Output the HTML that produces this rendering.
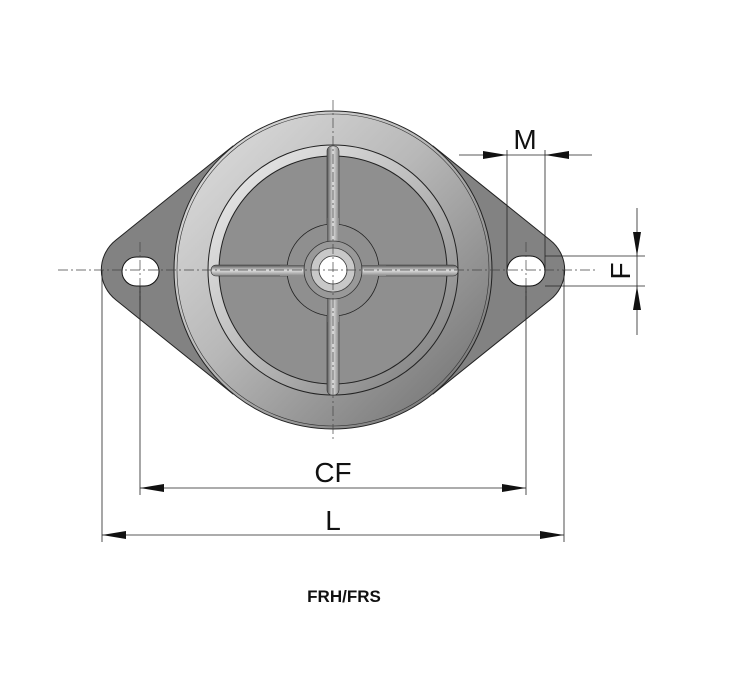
<!DOCTYPE html>
<html><head><meta charset="utf-8"><style>
html,body{margin:0;padding:0;background:#fff;}
svg{display:block;}
</style></head><body>
<svg width="736" height="675" viewBox="0 0 736 675" xmlns="http://www.w3.org/2000/svg" font-family="Liberation Sans, sans-serif">
<defs>
<linearGradient id="ring" x1="0" y1="0" x2="1" y2="1">
<stop offset="0" stop-color="#e2e2e2"/><stop offset="0.45" stop-color="#b8b8b8"/><stop offset="1" stop-color="#6a6a6a"/>
</linearGradient>
<linearGradient id="lip" x1="0" y1="0" x2="1" y2="1">
<stop offset="0" stop-color="#f0f0f0"/><stop offset="0.5" stop-color="#bbbbbb"/><stop offset="1" stop-color="#777"/>
</linearGradient>
<linearGradient id="rib" x1="0" y1="0" x2="0" y2="1">
<stop offset="0" stop-color="#555"/><stop offset="0.5" stop-color="#ddd"/><stop offset="1" stop-color="#888"/>
</linearGradient>
<linearGradient id="ribv" x1="0" y1="0" x2="1" y2="0">
<stop offset="0" stop-color="#555"/><stop offset="0.5" stop-color="#ddd"/><stop offset="1" stop-color="#888"/>
</linearGradient>
</defs>
<!-- flange -->
<path d="M233,146 L116,240 A38,38 0 0 0 116,300 L233,394 L433,394 L550,300 A38,38 0 0 0 550,240 L433,146 Z" fill="#828282" stroke="#222" stroke-width="1"/>
<!-- outer body -->
<circle cx="333" cy="270" r="159" fill="url(#ring)" stroke="#222" stroke-width="1"/>
<circle cx="333" cy="270" r="156" fill="none" stroke="#333" stroke-width="0.6"/>
<circle cx="333" cy="270" r="125" fill="url(#lip)" stroke="#222" stroke-width="1"/>
<circle cx="333" cy="270" r="114" fill="#8f8f8f" stroke="#222" stroke-width="1"/>
<!-- ribs -->
<rect x="211" y="265" width="247" height="11" rx="5" fill="url(#rib)" stroke="#333" stroke-width="0.6"/>
<rect x="327" y="146" width="12" height="249" rx="5" fill="url(#ribv)" stroke="#333" stroke-width="0.6"/>
<!-- boss -->
<circle cx="333" cy="270" r="46" fill="#8f8f8f" stroke="#222" stroke-width="0.8"/>
<rect x="280" y="265" width="106" height="11" fill="url(#rib)"/>
<rect x="327" y="218" width="12" height="104" fill="url(#ribv)"/>
<circle cx="333" cy="270" r="29" fill="#999" stroke="#333" stroke-width="0.8"/>
<circle cx="333" cy="270" r="22" fill="#c8c8c8" stroke="#444" stroke-width="0.8"/>
<circle cx="333" cy="270" r="14" fill="#fff" stroke="#333" stroke-width="0.8"/>
<!-- slots -->
<rect x="122" y="257" width="37" height="29" rx="14.5" fill="#fff" stroke="#111" stroke-width="1"/>
<rect x="507" y="256" width="38" height="30" rx="15" fill="#fff" stroke="#111" stroke-width="1"/>
<!-- centerlines -->
<g stroke="#444" stroke-width="0.7" stroke-dasharray="10,3,2,3" fill="none">
<line x1="58" y1="270" x2="596" y2="270"/>
<line x1="333" y1="100" x2="333" y2="440"/>
<line x1="140" y1="242" x2="140" y2="300"/>
<line x1="526" y1="242" x2="526" y2="300"/>
</g>
<!-- dimension lines -->
<g stroke="#222" stroke-width="0.8" fill="none">
<line x1="140" y1="286" x2="140" y2="495"/>
<line x1="526" y1="286" x2="526" y2="495"/>
<line x1="102" y1="270" x2="102" y2="542"/>
<line x1="564" y1="270" x2="564" y2="542"/>
<line x1="140" y1="488" x2="526" y2="488"/>
<line x1="102" y1="535" x2="564" y2="535"/>
<line x1="507" y1="150" x2="507" y2="270"/>
<line x1="545" y1="150" x2="545" y2="270"/>
<line x1="459" y1="155" x2="592" y2="155"/>
<line x1="545" y1="256" x2="645" y2="256"/>
<line x1="545" y1="286" x2="645" y2="286"/>
<line x1="637" y1="208" x2="637" y2="335"/>
</g>
<g fill="#111">
<polygon points="140,488 164,484 164,492"/>
<polygon points="526,488 502,484 502,492"/>
<polygon points="102,535 126,531 126,539"/>
<polygon points="564,535 540,531 540,539"/>
<polygon points="507,155 483,151 483,159"/>
<polygon points="545,155 569,151 569,159"/>
<polygon points="637,256 633,232 641,232"/>
<polygon points="637,286 633,310 641,310"/>
</g>
<text x="333" y="482" font-size="28" text-anchor="middle" fill="#111">CF</text>
<text x="333" y="530" font-size="28" text-anchor="middle" fill="#111">L</text>
<text x="525" y="149" font-size="28" text-anchor="middle" fill="#111">M</text>
<text x="0" y="0" font-size="28" text-anchor="middle" fill="#111" transform="translate(630,271) rotate(-90)">F</text>
<text x="344" y="602" font-size="17" font-weight="bold" text-anchor="middle" fill="#111">FRH/FRS</text>
</svg>
</body></html>
